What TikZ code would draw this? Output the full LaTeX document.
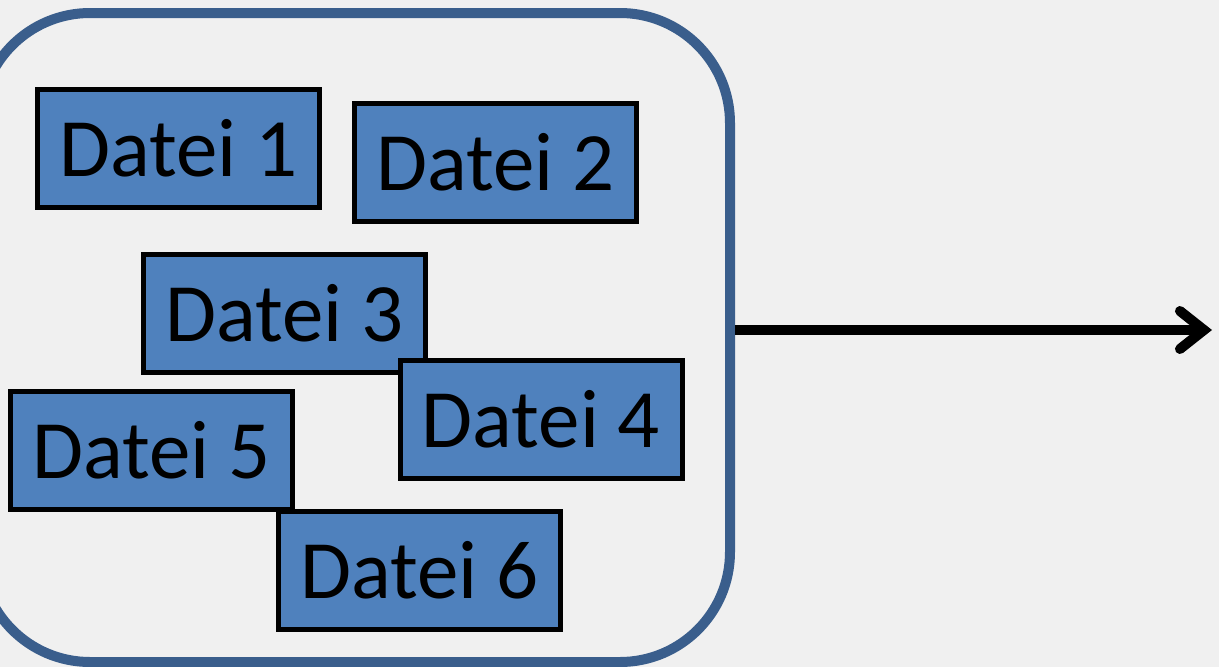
\documentclass[tikz,border=0pt]{standalone}
\usepackage{fontspec}
\setmainfont{Carlito}
\usepackage{tikz}
\usetikzlibrary{arrows.meta}
\definecolor{bggray}{HTML}{F0F0F0}
\definecolor{fileblue}{HTML}{4F81BD}
\definecolor{framecol}{HTML}{3A5E8C}

\begin{document}
\begin{tikzpicture}[x=1pt,y=-1pt,
	datei/.style={draw=black, fill=fileblue, line width=5pt, rectangle,
		minimum width=282pt, minimum height=118pt, inner sep=0pt,
		font=\fontsize{83}{96}\selectfont},
	container/.style={draw=framecol, fill=bggray, line width=10pt, rectangle,
		rounded corners=110pt, minimum width=750pt, minimum height=649pt, inner sep=0pt}]

	\fill[bggray] (0,0) rectangle (1219,667);
	\useasboundingbox (0,0) rectangle (1219,667);

	\node[container] (box) at (355,337.5) {};

	\node[datei] (d1) at (178.5,148.5) {Datei 1};
	\node[datei] (d2) at (495.5,162.5) {Datei 2};
	\node[datei] (d3) at (284.5,313.5) {Datei 3};
	\node[datei] (d4) at (541,419.5) {Datei 4};
	\node[datei] (d5) at (151.5,450.5) {Datei 5};
	\node[datei] (d6) at (419.5,570.5) {Datei 6};

	\coordinate (end) at (1212,330);
	\draw[line width=10pt, -{Straight Barb[length=24pt, width=38pt, line cap=round]}]
		(box.east |- end) -- (end);

\end{tikzpicture}
\end{document}
